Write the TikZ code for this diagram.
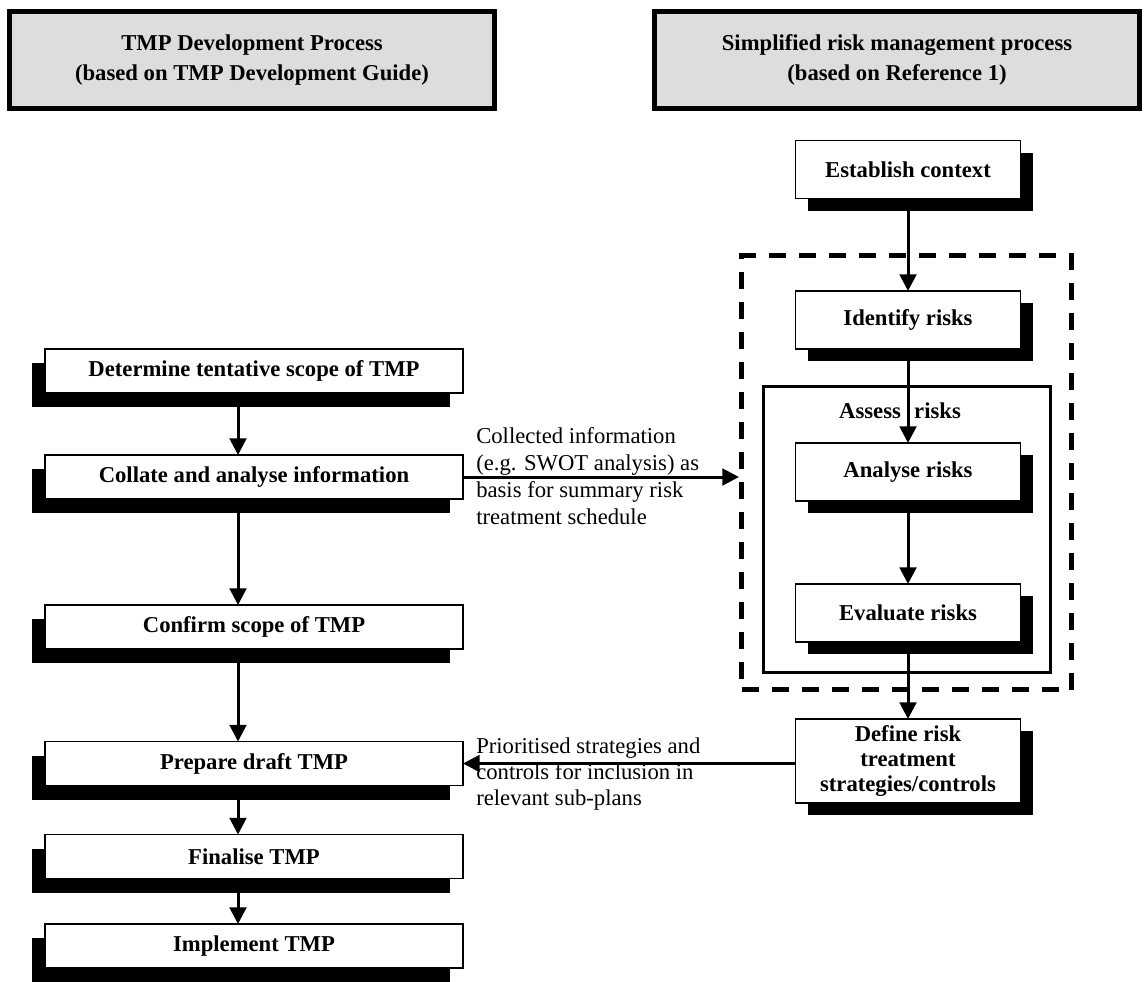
\documentclass[tikz,border=0pt]{standalone}
\usepackage{fontspec}
\setmainfont{Liberation Serif}
\usetikzlibrary{arrows.meta,shadows}
\definecolor{hdrgray}{RGB}{221,221,221}
\begin{document}
\begin{tikzpicture}[x=0.75pt,y=-0.75pt,
  lbl/.style={font=\fontsize{17}{18.5}\selectfont\bfseries, align=center, inner sep=0pt, outer sep=0pt},
  hdr/.style={lbl, font=\fontsize{17}{22}\selectfont\bfseries, draw, line width=3.75pt, fill=hdrgray, minimum width=363.75pt, minimum height=72pt},
  lbox/.style={lbl, draw, line width=1.1pt, fill=white, minimum width=313.5pt, minimum height=33pt,
    drop shadow={shadow xshift=-9.75pt, shadow yshift=-10.5pt, fill=black, opacity=1}},
  rbox/.style={lbl, draw, line width=1.1pt, fill=white, minimum width=168.75pt, minimum height=43.5pt,
    drop shadow={shadow xshift=9pt, shadow yshift=-9pt, fill=black, opacity=1}},
  note/.style={font=\fontsize{17}{20.25}\selectfont, align=left, inner sep=0pt, anchor=north west},
  arr/.style={line width=2.25pt, -{Triangle[length=12.5pt,width=12.5pt]}}
]
\useasboundingbox (0,0) rectangle (1148,981);

% headers
\node[hdr] (h1) at (252,60) {TMP Development Process\\(based on TMP Development Guide)};
\node[hdr] (h2) at (897,60) {Simplified risk management process\\(based on Reference 1)};

% right-hand frames
\node[draw, line width=3.75pt, dash pattern=on 12.75pt off 9.75pt, minimum width=247.5pt, minimum height=325.5pt, inner sep=0pt] (dash) at (906.5,472.5) {};
\node[draw, line width=2.25pt, minimum width=215.25pt, minimum height=214.5pt, inner sep=0pt] (assess) at (907,529.5) {};
\node[lbl] (assesslbl) at (900,411) {Assess\hspace{10pt}risks};

% left column
\node[lbox] (det) at (254,371) {Determine tentative scope of TMP};
\node[lbox] (col) at (254,477) {Collate and analyse information};
\node[lbox] (conf) at (254,627) {Confirm scope of TMP};
\node[lbox] (prep) at (254,763.5) {Prepare draft TMP};
\node[lbox] (fin) at (254,856.5) {Finalise TMP};
\node[lbox] (impl) at (254,946) {Implement TMP};

% right column
\node[rbox] (est) at (908,169.5) {Establish context};
\node[rbox] (ident) at (908,320) {Identify risks};
\node[rbox] (ana) at (908,472) {Analyse risks};
\node[rbox] (eva) at (908,613) {Evaluate risks};
\node[rbox, minimum height=63pt] (def) at (908,761) {Define risk\\treatment\\strategies/controls};

% left arrows
\draw[arr] ([xshift=-12pt]det.south) -- ([xshift=-12pt]col.north);
\draw[arr] ([xshift=-12pt]col.south) -- ([xshift=-12pt]conf.north);
\draw[arr] ([xshift=-12pt]conf.south) -- ([xshift=-12pt]prep.north);
\draw[arr] ([xshift=-12pt]prep.south) -- ([xshift=-12pt]fin.north);
\draw[arr] ([xshift=-12pt]fin.south) -- ([xshift=-12pt]impl.north);

% right arrows
\draw[arr] (est.south) -- (ident.north);
\draw[arr] (ident.south) -- (ana.north);
\draw[arr] (ana.south) -- (eva.north);
\draw[arr] (eva.south) -- (def.north);

% cross arrows
\draw[arr] (col.east) -- (col.east -| dash.west);
\draw[arr] (def.west |- prep.east) -- (prep.east);

\node[note] (n1) at (476,427) {Collected information\\(e.g. SWOT analysis) as\\basis for summary risk\\treatment schedule};
\node[note, font=\fontsize{17}{19.5}\selectfont] (n2) at (476,737) {Prioritised strategies and\\controls for inclusion in\\relevant sub-plans};
\end{tikzpicture}
\end{document}
